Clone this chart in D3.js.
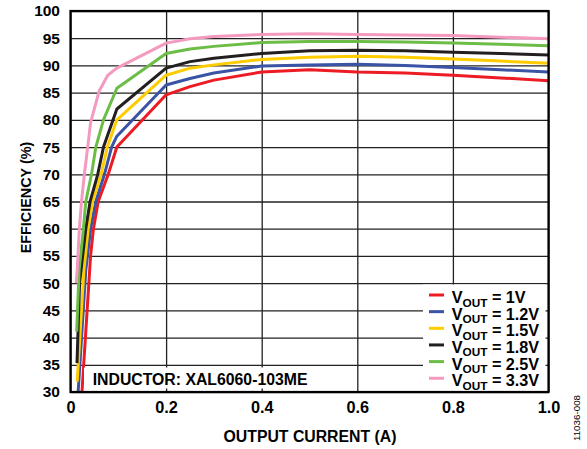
<!DOCTYPE html>
<html>
<head>
<meta charset="utf-8">
<style>
body { margin: 0; background: #fff; }
svg text { font-family: "Liberation Sans", Arial, sans-serif; font-weight: bold; fill: #000; }
.grid line { stroke: #222; stroke-width: 1.3; }
.grid path { display: none; }
.curve { fill: none; stroke-width: 3; stroke-linejoin: round; }
</style>
<script src="https://d3js.org/d3.v7.min.js"></script>
</head>
<body>
<svg id="chart" width="587" height="449"></svg>
<script>
// efficiency (%) vs output current (A)
var eff1V = [[0.024,30],[0.042,55],[0.048,60],[0.058,65],[0.079,70],[0.097,75],[0.2,84.6],[0.25,86.1],[0.3,87.3],[0.4,88.8],[0.5,89.2],[0.6,88.8],[0.7,88.6],[0.8,88.2],[0.9,87.7],[1.0,87.2]];
var eff1_2V = [[0.016,30],[0.032,52.4],[0.042,60],[0.053,65],[0.071,70],[0.086,75],[0.097,77],[0.2,86.4],[0.25,87.6],[0.3,88.6],[0.4,89.9],[0.5,90.1],[0.6,90.2],[0.7,90.0],[0.8,89.6],[0.9,89.2],[1.0,88.8]];
var eff1_5V = [[0.014,31.9],[0.028,52.4],[0.037,60],[0.046,65],[0.064,70],[0.077,75],[0.097,80],[0.2,88.2],[0.25,89.5],[0.3,90.1],[0.4,91.1],[0.5,91.5],[0.6,91.7],[0.7,91.5],[0.8,91.2],[0.9,90.8],[1.0,90.4]];
var eff1_8V = [[0.0136,35.3],[0.019,50],[0.032,60],[0.041,65],[0.057,70],[0.069,75],[0.097,82],[0.2,89.5],[0.25,90.7],[0.3,91.3],[0.4,92.2],[0.5,92.7],[0.6,92.8],[0.7,92.7],[0.8,92.4],[0.9,92.2],[1.0,91.9]];
var eff2_5V = [[0.013,41.1],[0.018,52.4],[0.027,60],[0.032,65],[0.044,70],[0.053,75],[0.069,80],[0.097,85.8],[0.2,92.2],[0.25,93.0],[0.3,93.5],[0.4,94.2],[0.5,94.4],[0.6,94.4],[0.7,94.3],[0.8,94.1],[0.9,93.9],[1.0,93.6]];
var eff3_3V = [[0.012,50],[0.014,52.4],[0.0185,60],[0.023,65],[0.029,70],[0.036,75],[0.042,79.5],[0.06,85.3],[0.078,88.2],[0.097,89.5],[0.2,94.1],[0.25,94.9],[0.3,95.3],[0.4,95.7],[0.5,95.8],[0.6,95.7],[0.7,95.6],[0.8,95.5],[0.9,95.2],[1.0,94.9]];

var voutLabels = ["1V", "1.2V", "1.5V", "1.8V", "2.5V", "3.3V"];
var xTicks = [0, 0.2, 0.4, 0.6, 0.8, 1.0];
var yTicks = [30, 35, 40, 45, 50, 55, 60, 65, 70, 75, 80, 85, 90, 95, 100];

var series = [eff1V, eff1_2V, eff1_5V, eff1_8V, eff2_5V, eff3_3V];
var colors = ["#ed1c24", "#3a53a4", "#ffcc00", "#231f20", "#6cbd45", "#f49ac1"];

var plotL = 70.5, plotR = 548.5, plotT = 11, plotB = 392;
var svg = d3.select("#chart");

var x = d3.scaleLinear().domain([0, 1]).range([plotL, plotR]);
var y = d3.scaleLinear().domain([30, 100]).range([plotB, plotT]);

svg.append("defs").append("clipPath").attr("id", "plot")
  .append("rect").attr("x", plotL).attr("y", plotT)
  .attr("width", plotR - plotL).attr("height", plotB - plotT);

// grid + tick labels
var yAxis = d3.axisLeft(y).tickValues(yTicks).tickSize(-(plotR - plotL)).tickPadding(10.5)
  .tickFormat(d3.format("d"));
svg.append("g").attr("class", "grid").attr("transform", "translate(" + plotL + ",0)")
  .call(yAxis)
  .selectAll("text").style("font-size", "15.5px");

var xAxis = d3.axisBottom(x).tickValues(xTicks).tickSize(-(plotB - plotT))
  .tickFormat(function(d) { return d === 0 ? "0" : d3.format(".1f")(d); });
svg.append("g").attr("class", "grid").attr("transform", "translate(0," + plotB + ")")
  .call(xAxis)
  .selectAll("text").attr("y", 21).attr("dy", 0).style("font-size", "16.3px");

svg.selectAll(".grid .tick text").attr("fill", "#000");

// curves
var line = d3.line().x(function(d) { return x(d[0]); }).y(function(d) { return y(d[1]); });
svg.append("g").attr("clip-path", "url(#plot)")
  .selectAll("path").data(series).enter().append("path")
  .attr("class", "curve")
  .attr("stroke", function(d, i) { return colors[i]; })
  .attr("d", line);

// inductor note
svg.append("rect").attr("x", 84).attr("y", 367.5).attr("width", 228).attr("height", 21).attr("fill", "#fff");
svg.append("text").attr("x", 92.7).attr("y", 385).style("font-size", "15.8px")
  .text("INDUCTOR: XAL6060-103ME");

// legend
svg.append("rect").attr("x", 423).attr("y", 284.5).attr("width", 122.5).attr("height", 107).attr("fill", "#fff");
var leg = svg.append("g").selectAll("g").data(voutLabels).enter().append("g")
  .attr("transform", function(d, i) { return "translate(0," + (295 + i * 16.65) + ")"; });
leg.append("line").attr("x1", 429).attr("x2", 444).attr("y1", 0).attr("y2", 0)
  .attr("stroke", function(d, i) { return colors[i]; }).attr("stroke-width", 3);
var lt = leg.append("text").attr("x", 451.7).attr("y", 8).style("font-size", "16.2px");
lt.append("tspan").text("V");
lt.append("tspan").attr("dy", 3.5).style("font-size", "11.8px").text("OUT");
lt.append("tspan").attr("dy", -3.5).text(function(d) { return " = " + d; });

// frame
svg.append("rect").attr("x", plotL).attr("y", plotT).attr("width", plotR - plotL).attr("height", plotB - plotT)
  .attr("fill", "none").attr("stroke", "#000").attr("stroke-width", 2.2);

// titles
svg.append("text").attr("x", 310).attr("y", 442).attr("text-anchor", "middle")
  .style("font-size", "15.8px").text("OUTPUT CURRENT (A)");
svg.append("text").attr("transform", "translate(31,197.5) rotate(-90)").attr("text-anchor", "middle")
  .style("font-size", "14.4px").text("EFFICIENCY (%)");
svg.append("text").attr("transform", "translate(580,418) rotate(-90)").attr("text-anchor", "middle")
  .style("font-size", "9.8px").style("font-weight", "normal").attr("fill", "#333").text("11036-008");
</script>
</body>
</html>
